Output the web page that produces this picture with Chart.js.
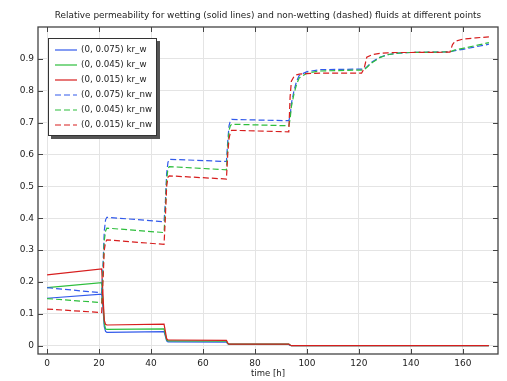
<!DOCTYPE html>
<html>
<head>
<meta charset="utf-8">
<script src="https://cdn.jsdelivr.net/npm/chart.js@4/dist/chart.umd.min.js"></script>
<style>
  html, body { margin: 0; padding: 0; background: #fff; }
  #wrap { position: relative; width: 507px; height: 381px; }
  #legend {
    position: absolute; left: 48px; top: 38px; width: 109px; height: 98px;
    border: 1px solid #333; background: #fff; box-shadow: 3px 3px 0 #555;
    font-family: "DejaVu Sans", sans-serif; font-size: 8.7px; color: #222;
    box-sizing: border-box;
  }
  #legend .row { position: absolute; left: 0; height: 15px; line-height: 15px; white-space: nowrap; }
  #legend svg { position: absolute; left: 6px; top: 7px; }
  #legend span { position: absolute; left: 32px; top: 0; }
</style>
</head>
<body>
<div id="wrap">
  <canvas id="c" width="507" height="381"></canvas>
  <div id="legend"></div>
</div>
<script>
const titleText = "Relative permeability for wetting (solid lines) and non-wetting (dashed) fluids at different points";
const xTitle = "time [h]";
const xTicks = [0, 20, 40, 60, 80, 100, 120, 140, 160];
const yTicks = [0, 0.1, 0.2, 0.3, 0.4, 0.5, 0.6, 0.7, 0.8, 0.9];
const seriesLabels = ["(0, 0.075) kr_w", "(0, 0.045) kr_w", "(0, 0.015) kr_w",
                      "(0, 0.075) kr_nw", "(0, 0.045) kr_nw", "(0, 0.015) kr_nw"];

const time = [0, 21, 21.5, 22, 22.5, 23, 45, 45.5, 46, 46.5, 47, 69, 69.5, 70, 70.5, 71,
  93, 93.5, 94, 95, 96, 97, 100, 105, 121, 122, 123, 125, 128, 131, 135, 140, 155, 156, 157, 160, 165, 170];

const krwA = [0.149, 0.162, 0.12, 0.06, 0.045, 0.042, 0.044, 0.03, 0.015, 0.012, 0.012, 0.011, 0.006, 0.004, 0.004, 0.004,
  0.004, 0.001, 0, 0, 0, 0, 0, 0, 0, 0, 0, 0, 0, 0, 0, 0, 0, 0, 0, 0, 0, 0];
const krwB = [0.182, 0.198, 0.14, 0.07, 0.053, 0.051, 0.053, 0.035, 0.018, 0.015, 0.015, 0.014, 0.007, 0.005, 0.005, 0.005,
  0.005, 0.002, 0, 0, 0, 0, 0, 0, 0, 0, 0, 0, 0, 0, 0, 0, 0, 0, 0, 0, 0, 0];
const krwC = [0.222, 0.241, 0.16, 0.08, 0.067, 0.065, 0.068, 0.045, 0.022, 0.018, 0.018, 0.017, 0.009, 0.005, 0.005, 0.005,
  0.005, 0.002, 0, 0, 0, 0, 0, 0, 0, 0, 0, 0, 0, 0, 0, 0, 0, 0, 0, 0, 0, 0];
const krnwA = [0.182, 0.166, 0.25, 0.36, 0.395, 0.403, 0.389, 0.45, 0.54, 0.575, 0.585, 0.578, 0.64, 0.69, 0.705, 0.71,
  0.706, 0.72, 0.76, 0.80, 0.83, 0.848, 0.86, 0.866, 0.868, 0.868, 0.875, 0.89, 0.905, 0.913, 0.918, 0.92, 0.922, 0.924, 0.926, 0.93, 0.938, 0.946];
const krnwB = [0.148, 0.135, 0.23, 0.33, 0.36, 0.369, 0.355, 0.43, 0.52, 0.555, 0.562, 0.552, 0.62, 0.675, 0.69, 0.695,
  0.69, 0.71, 0.75, 0.79, 0.82, 0.84, 0.855, 0.862, 0.865, 0.866, 0.873, 0.888, 0.904, 0.913, 0.918, 0.92, 0.922, 0.925, 0.928, 0.933, 0.942, 0.951];
const krnwC = [0.115, 0.104, 0.2, 0.3, 0.325, 0.332, 0.318, 0.4, 0.5, 0.528, 0.533, 0.523, 0.6, 0.65, 0.668, 0.676,
  0.671, 0.78, 0.83, 0.845, 0.85, 0.852, 0.854, 0.855, 0.855, 0.87, 0.905, 0.913, 0.917, 0.919, 0.92, 0.92, 0.921, 0.945, 0.955, 0.962, 0.966, 0.969];

const BLUE = "rgb(50,90,235)", GREEN = "rgb(45,190,60)", RED = "rgb(215,30,30)";
const seriesValues = [krwA, krwB, krwC, krnwA, krnwB, krnwC];
const seriesColors = [BLUE, GREEN, RED, BLUE, GREEN, RED];
const seriesDashed = [false, false, false, true, true, true];

const FONT = "DejaVu Sans";

function toPoints(vals) { return time.map((t, i) => ({ x: t, y: vals[i] })); }

const datasets = seriesValues.map((vals, i) => ({
  label: seriesLabels[i],
  data: toPoints(vals),
  borderColor: seriesColors[i],
  backgroundColor: seriesColors[i],
  borderWidth: 1.2,
  borderDash: seriesDashed[i] ? [6, 3] : [],
  pointRadius: 0,
  tension: 0,
  fill: false,
  order: seriesValues.length - i
}));

const framePlugin = {
  id: "frame",
  afterDraw(chart) {
    const { ctx, chartArea: a, scales } = chart;
    ctx.save();
    ctx.strokeStyle = "#444";
    ctx.lineWidth = 1;
    xTicks.forEach(v => {
      const px = Math.round(scales.x.getPixelForValue(v)) + 0.5;
      ctx.beginPath();
      ctx.moveTo(px, a.bottom); ctx.lineTo(px, a.bottom - 5);
      ctx.moveTo(px, a.top); ctx.lineTo(px, a.top + 5);
      ctx.stroke();
    });
    yTicks.forEach(v => {
      const py = Math.round(scales.y.getPixelForValue(v)) + 0.5;
      ctx.beginPath();
      ctx.moveTo(a.left, py); ctx.lineTo(a.left + 5, py);
      ctx.moveTo(a.right, py); ctx.lineTo(a.right - 5, py);
      ctx.stroke();
    });
    ctx.lineWidth = 1.3;
    ctx.strokeRect(a.left, a.top, a.right - a.left, a.bottom - a.top);
    // title centred over the plot area
    ctx.fillStyle = "#222";
    ctx.font = "8.9px '" + FONT + "'";
    ctx.textAlign = "center";
    ctx.textBaseline = "middle";
    ctx.fillText(titleText, (a.left + a.right) / 2, 16);
    ctx.restore();
  }
};

new Chart(document.getElementById("c"), {
  type: "line",
  data: { datasets },
  options: {
    responsive: false,
    animation: false,
    layout: { padding: { left: 0, right: 9, top: 27, bottom: 0 } },
    plugins: {
      legend: { display: false },
      tooltip: { enabled: false },
      title: { display: false }
    },
    scales: {
      x: {
        type: "linear", min: -3.5, max: 173.5,
        afterBuildTicks(s) { s.ticks = xTicks.map(v => ({ value: v })); },
        afterFit(s) { s.height = 27; },
        grid: { color: "#e4e4e4", drawTicks: false, lineWidth: 1 },
        border: { display: false },
        ticks: { color: "#222", font: { family: FONT, size: 9 }, padding: 4, maxRotation: 0 },
        title: { display: true, text: xTitle, color: "#222", font: { family: FONT, size: 8.5 }, padding: { top: 0, bottom: 2 } }
      },
      y: {
        type: "linear", min: -0.026, max: 1.0,
        afterBuildTicks(s) { s.ticks = yTicks.map(v => ({ value: v })); },
        afterFit(s) { s.width = 38; },
        grid: { color: "#e4e4e4", drawTicks: false, lineWidth: 1 },
        border: { display: false },
        ticks: { color: "#222", font: { family: FONT, size: 9 }, padding: 4,
          callback: v => (v === 0 ? "0" : v.toFixed(1)) }
      }
    }
  },
  plugins: [framePlugin]
});

// HTML legend built from the datasets
const leg = document.getElementById("legend");
datasets.forEach((d, i) => {
  const row = document.createElement("div");
  row.className = "row";
  row.style.top = (3 + i * 15) + "px";
  row.innerHTML = '<svg width="22" height="2"><line x1="0" y1="1" x2="22" y2="1" stroke="' + d.borderColor +
    '" stroke-width="1.2"' + (seriesDashed[i] ? ' stroke-dasharray="6,3"' : '') + '/></svg><span></span>';
  row.querySelector("span").textContent = d.label;
  leg.appendChild(row);
});
</script>
</body>
</html>
